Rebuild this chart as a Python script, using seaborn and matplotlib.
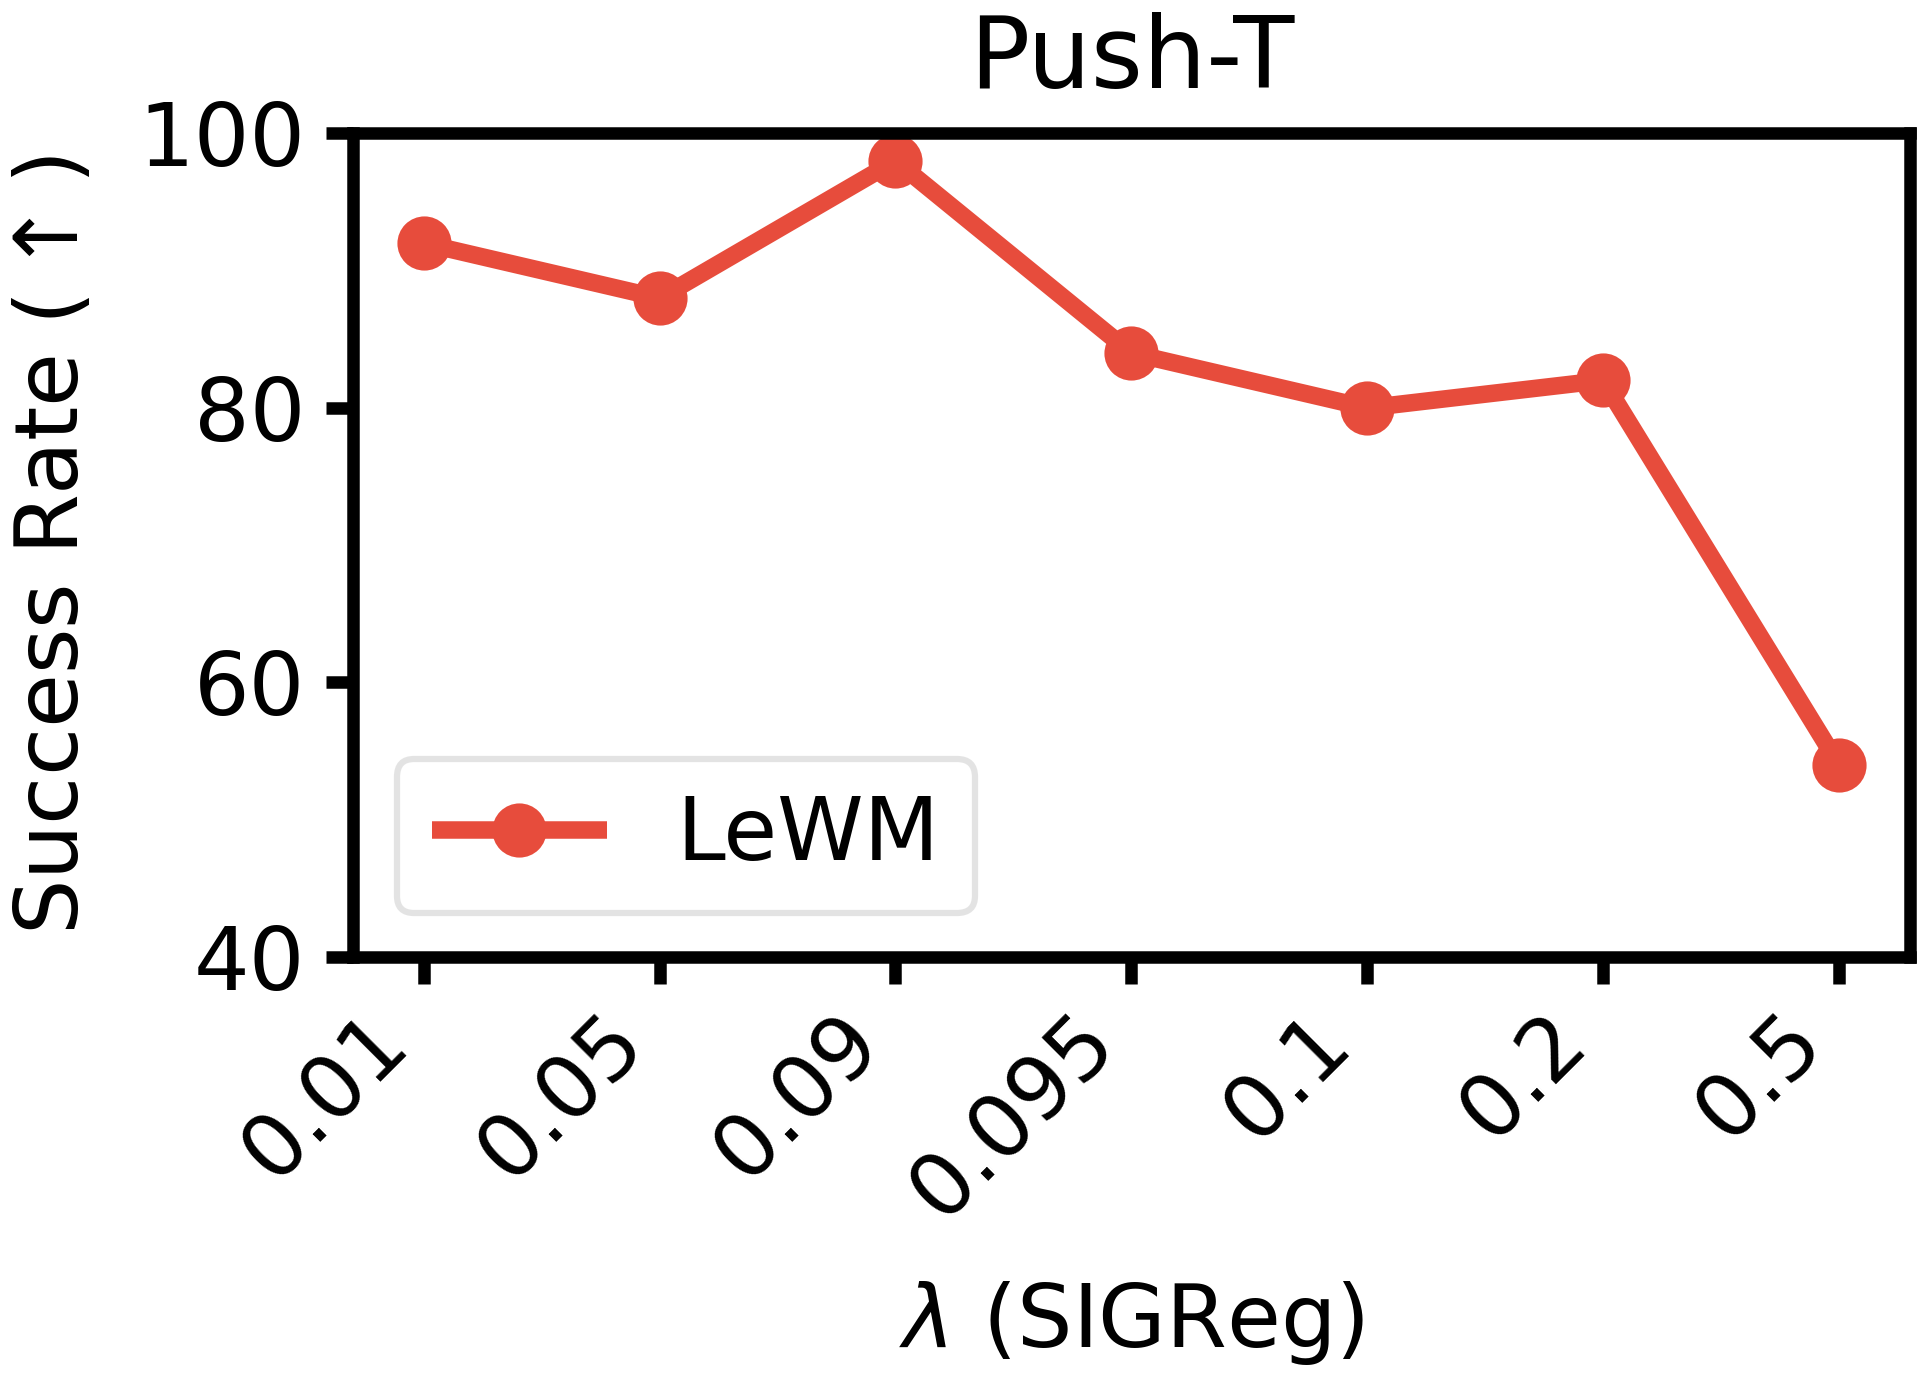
import pandas as pd
import seaborn as sns
from matplotlib import pyplot as plt

# values
lambdas = ["0.01", "0.05", "0.09", "0.095", "0.1", "0.2", "0.5"]
success = [92, 88, 98, 84, 80, 82, 54]
method = ["LeWM"] * len(lambdas)

df = pd.DataFrame({"lambda": lambdas, "success": success, "method": method})

sns.set_theme(style="ticks")
plt.rcParams["font.family"] = ["DejaVu Sans"]
plt.rcParams["text.color"] = "black"
plt.rcParams["axes.labelcolor"] = "black"
plt.rcParams["axes.linewidth"] = 3
plt.rcParams["xtick.major.width"] = 3
plt.rcParams["ytick.major.width"] = 3
plt.rcParams["xtick.major.size"] = 6.5
plt.rcParams["ytick.major.size"] = 6.5
plt.rcParams["axes.edgecolor"] = "black"
plt.rcParams["lines.solid_capstyle"] = "butt"

fig, ax = plt.subplots(figsize=(1929 / 300, 1375 / 300), dpi=300)
fig.subplots_adjust(left=0.183, right=0.990, top=0.903, bottom=0.304)

sns.lineplot(data=df, x="lambda", y="success", hue="method", palette=["#e74c3c"],
             marker="o", markersize=13, markeredgewidth=0, linewidth=4.2, sort=False, ax=ax)

ax.set_ylim(40, 100)
ax.set_yticks([40, 60, 80, 100])
ax.set_xlim(-0.3, 6.3)
ax.tick_params(axis="both", labelsize=21, colors="black")
ax.tick_params(axis="y", pad=5)
plt.setp(ax.get_xticklabels(), rotation=45, ha="right")
ax.set_xlabel(r"$\lambda$ (SIGReg)", fontsize=21, labelpad=10.5)
ax.set_ylabel(r"Success Rate ($\uparrow$)", fontsize=21, labelpad=10)
ax.set_title("Push-T", fontsize=24, pad=11)

leg = ax.legend(loc="lower left", fontsize=21, frameon=True, fancybox=True)
leg.get_frame().set_edgecolor("#dddddd")
leg.get_frame().set_linewidth(1.5)

plt.savefig("out.png", dpi=300)
